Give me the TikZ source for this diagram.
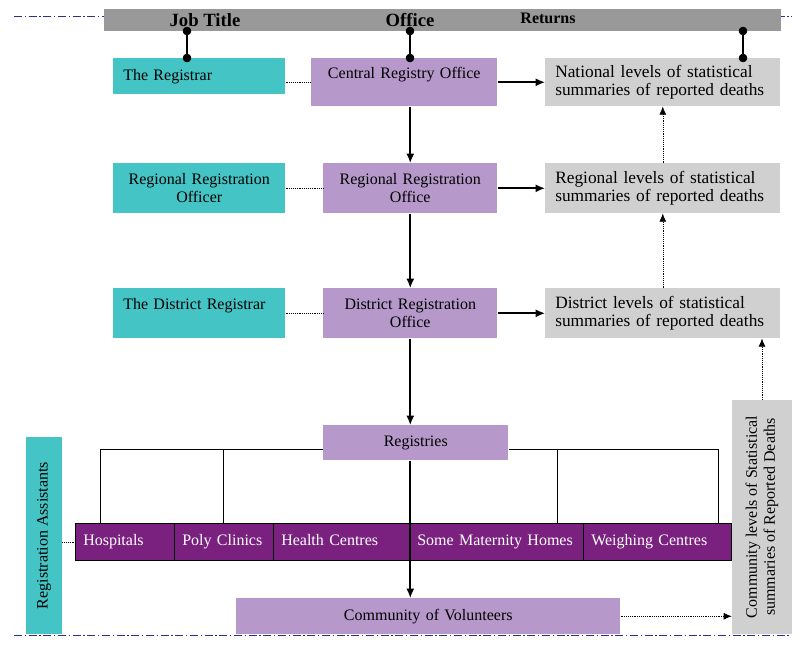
\documentclass[tikz,border=0pt]{standalone}
\usepackage{fontspec}
\setmainfont{Liberation Serif}
\usepackage{tikz}
\usetikzlibrary{arrows.meta}
\definecolor{c0}{HTML}{45C4C6}
\definecolor{c1}{HTML}{B699CA}
\definecolor{c2}{HTML}{D0D0D0}
\definecolor{c3}{HTML}{7A2180}
\definecolor{c4}{HTML}{999999}
\definecolor{c5}{HTML}{2E2E8C}
\tikzset{%
  point/.style={circle,inner sep=0pt,minimum size=6pt,draw,fill=#1},
  point/.default=black,
  box/.style={anchor=north west,inner ysep=0pt,inner xsep=7.5pt,fill=#1,
    font=\fontsize{12}{13.5}\selectfont},
  retbox/.style={box=c2,text width=161.25pt,align=left,
    font=\fontsize{13}{14}\selectfont},
  cell/.style={box=c3,draw=black,thin,inner xsep=6pt,text=white,align=left,
    text height=8.5pt,text depth=2.5pt},
  head/.style={font=\bfseries\fontsize{#1}{#1}\selectfont},
  arr/.style={line width=1.2pt,-{Latex[length=7pt,width=6pt]}},
  link/.style={thin,densely dotted},
  uplink/.style={thin,densely dotted,-{Latex[length=6pt,width=5pt]}},
  frameline/.style={draw=c5,thin,dash pattern=on 6pt off 2pt on 1pt off 2pt}
}

\begin{document}
\begin{tikzpicture}[x=0.75pt,y=-0.75pt]
  \useasboundingbox (0,0) rectangle (800,646);
  \draw[frameline] (14,16) -- (792,16);
  \node[box=c4,minimum width=507.75pt,minimum height=16.5pt] (bar) at (104,9) {};
  \node[head=14] (jobtitle) at (205,20) {Job Title};
  \node[head=14] (office) at (410,20) {Office};
  \node[head=12] (returns) at (548,18) {Returns};
  %%%
  \node[box=c0,minimum height=27pt,text width=114pt,align=left] (registrar) at (113,58) {The Registrar};
  \node[box=c0,minimum height=37.5pt,text width=114pt,align=center] (regofficer) at (113,163) {Regional Registration\\Officer};
  \node[box=c0,minimum height=37.5pt,text width=114pt,align=left] (distregistrar) at (113,288) {The District Registrar\\\mbox{}};
  \node[box=c1,minimum height=36pt,text width=124.5pt,align=center] (central) at (311,58) {Central Registry Office\\\mbox{}};
  \node[box=c1,minimum height=37.5pt,text width=115.5pt,align=center] (regoffice) at (323,163) {Regional Registration\\Office};
  \node[box=c1,minimum height=37.5pt,text width=115.5pt,align=center] (distoffice) at (323,288) {District Registration\\Office};
  \node[retbox,minimum height=36pt] (natret) at (545,58) {National levels of statistical\\summaries of reported deaths};
  \node[retbox,minimum height=37.5pt] (regret) at (545,163) {Regional levels of statistical\\summaries of reported deaths};
  \node[retbox,minimum height=37.5pt] (distret) at (545,288) {District levels of statistical\\summaries of reported deaths};
  \node[box=c1,minimum height=26.25pt,text width=123.75pt,align=center] (registries) at (323,425) {Registries};
  %%%
  \node[cell,minimum height=27.75pt,text width=62.25pt] (hosp) at (75,523) {Hospitals};
  \node[cell,minimum height=27.75pt,text width=62.25pt] (poly) at (174,523) {Poly Clinics};
  \node[cell,minimum height=27.75pt,text width=90pt] (health) at (273,523) {Health Centres};
  \node[cell,minimum height=27.75pt,text width=118.5pt] (matern) at (409,523) {Some Maternity Homes};
  \node[cell,minimum height=27.75pt,text width=99pt] (weigh) at (583,523) {Weighing Centres};
  \node[box=c1,minimum height=27pt,text width=273pt,align=center] (volunteers) at (236,598) {Community of Volunteers};
  \node[box=c0,anchor=center,rotate=90,minimum width=147.75pt,minimum height=27pt] (regassist) at (44,535.5) {Registration Assistants};
  \node[box=c2,anchor=center,rotate=90,minimum width=175.5pt,minimum height=45pt,align=center,inner xsep=2pt] (commbox) at (762,517) {Community levels of Statistical\\summaries of Reported Deaths};
  %%%
  \node[point] (d0) at (187,31) {};
  \node[point] (e0) at (187,58) {};
  \node[point] (d1) at (410,31) {};
  \node[point] (e1) at (410,58) {};
  \node[point] (d2) at (743,31) {};
  \node[point] (e2) at (743,58) {};
  \draw[line width=1.5pt] (d0)--(e0);
  \draw[line width=1.5pt] (d1)--(e1);
  \draw[line width=1.5pt] (d2)--(e2);
  %%%
  \draw[link] (registrar.east |- central.west) -- (central.west);
  \draw[link] (regofficer.east) -- (regoffice.west);
  \draw[link] (distregistrar.east) -- (distoffice.west);
  \draw[link] (regassist.south |- hosp.west) -- (hosp.west);
  \draw[arr] (central.east) -- (natret.west);
  \draw[arr] (regoffice.east) -- (regret.west);
  \draw[arr] (distoffice.east) -- (distret.west);
  \draw[arr] (central.south -| regoffice.north) -- (regoffice.north);
  \draw[arr] (regoffice.south) -- (distoffice.north);
  \draw[arr] (distoffice.south) -- (registries.north -| distoffice.south);
  \draw[uplink] (regret.north) -- (natret.south);
  \draw[uplink] (distret.north) -- (regret.south);
  \draw[uplink] (commbox.east) -- (commbox.east |- distret.south);
  \draw[uplink] (volunteers.east) -- (volunteers.east -| commbox.north);
  %%%
  \coordinate (b0) at (100,449);
  \coordinate (b1) at (223,449);
  \coordinate (b2) at (557,449);
  \coordinate (b3) at (718,449);
  \draw[thin] (b0) -- (registries.west |- b0);
  \draw[thin] (registries.east |- b0) -- (b3);
  \draw[thin] (b0) -- (b0 |- hosp.north);
  \draw[thin] (b1) -- (b1 |- poly.north);
  \draw[thin] (b2) -- (b2 |- matern.north);
  \draw[thin] (b3) -- (b3 |- weigh.north);
  \draw[arr] (registries.south -| distoffice.south) -- (volunteers.north -| distoffice.south);
  \draw[frameline] (14,635) -- (790,635);
\end{tikzpicture}
\end{document}
